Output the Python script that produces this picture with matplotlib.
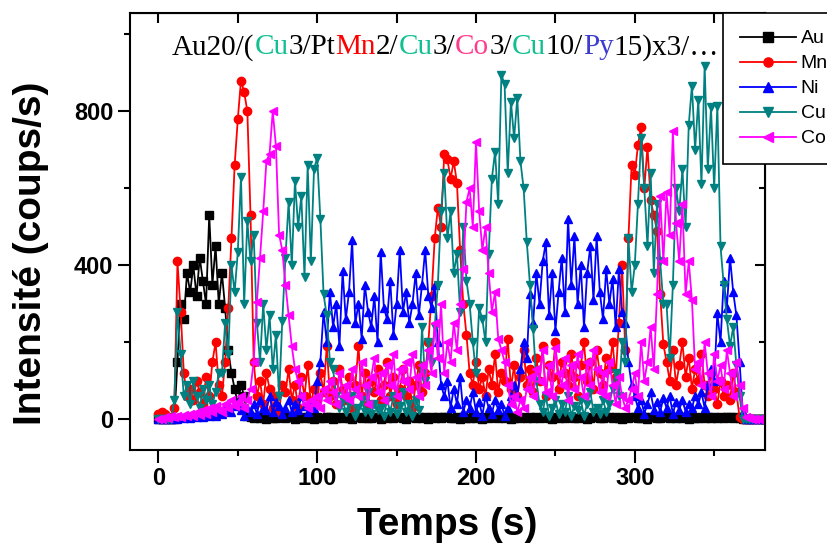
import numpy as np
import matplotlib
matplotlib.use('Agg')
import matplotlib.pyplot as plt
from matplotlib import transforms
from matplotlib.ticker import MultipleLocator

plt.rcParams['font.family'] = ['Liberation Sans', 'DejaVu Sans']

# time grid (s), one point every 2 s
t = np.arange(0, 386, 2)

au = [0, 0, 0, 0, 0, 0, 150, 300, 260, 380,
      330, 400, 320, 420, 360, 300, 530, 350, 450, 300,
      380, 290, 180, 120, 80, 40, 90, 60, 10, 5,
      4, 6, 3, 5, 2, 7, 4, 3, 6, 5,
      3, 5, 7, 2, 4, 6, 3, 5, 4, 2,
      6, 4, 3, 7, 5, 2, 4, 6, 3, 5,
      4, 2, 6, 5, 3, 7, 4, 3, 5, 6,
      2, 5, 4, 6, 3, 5, 7, 4, 2, 5,
      6, 3, 5, 4, 7, 2, 5, 3, 6, 4,
      5, 7, 3, 4, 6, 2, 5, 4, 3, 6,
      4, 5, 2, 6, 3, 5, 7, 4, 5, 3,
      6, 2, 4, 5, 3, 6, 4, 7, 3, 5,
      3, 5, 6, 4, 2, 5, 3, 6, 4, 7,
      5, 4, 3, 6, 5, 2, 4, 5, 6, 3,
      4, 6, 5, 3, 7, 4, 2, 5, 3, 6,
      5, 3, 4, 6, 2, 5, 7, 3, 4, 5,
      6, 4, 5, 3, 5, 4, 6, 2, 5, 3,
      4, 5, 3, 6, 4, 7, 3, 5, 4, 6,
      5, 3, 6, 4, 2, 0, 0, 0, 0, 0,
      0, 0, 0]

mn = [15, 20, 15, 5, 5, 30, 410, 280, 120, 60,
      80, 50, 100, 70, 40, 110, 60, 150, 200, 90,
      60, 150, 290, 470, 660, 780, 880, 850, 800, 530,
      150, 60, 100, 40, 120, 80, 30, 60, 20, 90,
      70, 130, 50, 90, 30, 110, 60, 140, 40, 80,
      50, 120, 70, 190, 60, 100, 40, 130, 80, 50,
      110, 30, 90, 190, 60, 120, 40, 100, 70, 130,
      50, 90, 150, 60, 110, 40, 80, 130, 60, 100,
      30, 90, 140, 70, 120, 200, 320, 470, 550, 500,
      690, 675, 625, 670, 615, 440, 300, 220, 120, 90,
      150, 80, 110, 60, 130, 90, 170, 70, 120, 100,
      210, 80, 140, 60, 110, 180, 90, 130, 70, 160,
      100, 190, 60, 140, 110, 200, 80, 150, 120, 90,
      170, 110, 60, 140, 200, 100, 150, 80, 180, 120,
      90, 160, 130, 200, 110, 250, 400, 180, 470, 660,
      635, 712, 760, 600, 707, 570, 530, 490, 325, 195,
      150, 100, 180, 90, 140, 200, 110, 160, 80, 130,
      100, 170, 90, 60, 120, 80, 40, 100, 60, 90,
      50, 120, 70, 5, 0, 0, 0, 0, 0, 0,
      0, 0, 0]

ni = [0, 2, 0, 3, 1, 4, 2, 5, 3, 6,
      4, 8, 5, 10, 6, 12, 8, 15, 10, 20,
      15, 25, 40, 20, 35, 45, 25, 10, 30, 20,
      40, 15, 50, 30, 25, 60, 20, 45, 35, 15,
      30, 50, 20, 40, 25, 60, 35, 20, 45, 30,
      100, 150, 280, 200, 330, 240, 300, 190, 385, 260,
      330, 465, 250, 300, 210, 350, 280, 240, 320, 200,
      435, 290, 260, 360, 220, 300, 440, 280, 330, 250,
      300, 380, 270, 350, 440, 320, 290, 350, 200, 90,
      60, 100, 30, 80, 40, 110, 20, 50, 30, 70,
      20, 45, 10, 60, 30, 15, 50, 25, 40, 10,
      30, 60, 90, 60, 130, 200, 160, 325, 250, 380,
      300, 410, 460, 270, 380, 230, 330, 420, 280, 520,
      350, 475, 300, 400, 240, 380, 450, 310, 475, 330,
      260, 390, 300, 365, 240, 390, 280, 250, 150, 90,
      60, 30, 50, 15, 40, 70, 25, 45, 20, 55,
      30, 60, 15, 45, 25, 50, 20, 40, 30, 60,
      40, 70, 30, 90, 130, 100, 275, 200, 360, 290,
      420, 330, 270, 150, 20, 0, 0, 0, 0, 0,
      0, 0, 0]

cu = [0, 0, 0, 0, 0, 50, 280, 170, 60, 90,
      40, 100, 60, 30, 80, 50, 90, 40, 70, 120,
      120, 250, 170, 400, 330, 435, 630, 300, 515, 410,
      480, 250, 150, 300, 180, 270, 130, 220, 60, 255,
      420, 565, 400, 620, 500, 580, 370, 660, 410, 650,
      680, 520, 325, 270, 150, 130, 60, 30, 50, 20,
      40, 60, 10, 30, 50, 20, 70, 15, 40, 25,
      30, 10, 50, 20, 60, 15, 35, 70, 20, 40,
      10, 50, 25, 240, 100, 200, 150, 240, 350, 540,
      640, 470, 540, 380, 430, 280, 500, 360, 300, 200,
      120, 290, 260, 200, 430, 625, 695, 560, 895, 870,
      640, 825, 730, 835, 670, 600, 460, 350, 235, 100,
      40, 20, 60, 10, 30, 50, 15, 40, 20, 60,
      10, 35, 25, 50, 10, 40, 70, 20, 30, 15,
      50, 20, 40, 80, 120, 60, 200, 150, 470, 330,
      400, 560, 730, 600, 450, 640, 380, 560, 410, 300,
      300, 160, 350, 600, 540, 650, 500, 765, 867, 700,
      830, 610, 918, 650, 810, 600, 815, 450, 350, 260,
      190, 240, 140, 60, 0, 0, 0, 0, 0, 0,
      0, 0, 0]

co = [0, 0, 5, 3, 8, 5, 10, 6, 12, 8,
      15, 10, 20, 12, 25, 15, 30, 20, 35, 25,
      20, 40, 30, 50, 35, 45, 60, 30, 50, 80,
      150, 305, 420, 540, 670, 690, 800, 710, 480, 440,
      350, 270, 190, 130, 100, 60, 40, 30, 50, 40,
      60, 30, 80, 50, 100, 70, 40, 120, 60, 90,
      50, 130, 80, 60, 150, 90, 40, 110, 160, 70,
      120, 50, 140, 90, 170, 60, 130, 100, 150, 80,
      170, 110, 60, 140, 90, 180, 120, 250, 160, 300,
      120, 200, 150, 250, 180, 300, 390, 565, 600, 500,
      720, 540, 440, 500, 380, 280, 330, 210, 180, 150,
      90, 40, 60, 20, 50, 30, 80, 110, 60, 130,
      100, 180, 70, 140, 60, 185, 120, 90, 160, 50,
      140, 80, 170, 110, 60, 150, 90, 180, 130, 70,
      120, 60, 150, 90, 40, 110, 60, 30, 50, 80,
      120, 60, 200, 100, 150, 240, 130, 325, 580, 410,
      590, 480, 750, 510, 410, 560, 325, 410, 310, 130,
      150, 90, 200, 120, 60, 170, 100, 140, 80, 180,
      120, 60, 150, 90, 30, 5, 3, 2, 2, 2,
      2, 2, 2]

series = [('Au', au, 'black', 's'),
          ('Mn', mn, 'red', 'o'),
          ('Ni', ni, 'blue', '^'),
          ('Cu', cu, '#008080', 'v'),
          ('Co', co, 'magenta', '<')]

fig = plt.figure(figsize=(8.27, 5.47), dpi=100)
ax = fig.add_axes([0.157, 0.177, 0.768, 0.799])

for name, vals, col, mk in series:
    ax.plot(t, vals, color=col, marker=mk, markersize=6, lw=1.3, label=name)

ax.set_xlim(-18, 382)
ax.set_ylim(-80, 1055)
ax.xaxis.set_major_locator(MultipleLocator(100))
ax.xaxis.set_minor_locator(MultipleLocator(50))
ax.yaxis.set_major_locator(MultipleLocator(400))
ax.yaxis.set_minor_locator(MultipleLocator(200))
for sp in ax.spines.values():
    sp.set_linewidth(1.5)
ax.tick_params(which='major', direction='out', length=9, width=1.5,
               labelsize=17, pad=3)
ax.tick_params(which='minor', direction='out', length=4.5, width=1.5)
for lab in ax.get_xticklabels() + ax.get_yticklabels():
    lab.set_fontweight('bold')

# inward ticks on top and right
top = ax.secondary_xaxis('top')
top.xaxis.set_major_locator(MultipleLocator(50))
top.tick_params(direction='in', length=7, width=1.5, labeltop=False)
right = ax.secondary_yaxis('right')
right.yaxis.set_major_locator(MultipleLocator(400))
right.yaxis.set_minor_locator(MultipleLocator(200))
right.tick_params(which='major', direction='in', length=7, width=1.5, labelright=False)
right.tick_params(which='minor', direction='in', length=4, width=1.5)

ax.set_xlabel('Temps (s)', fontsize=28, fontweight='bold', labelpad=12)
ax.set_ylabel('Intensité (coups/s)', fontsize=28, fontweight='bold')
ax.yaxis.set_label_coords(-0.127, 0.45)

# multicolour sample description
pieces = [('Au20/(', 'black'), ('Cu', '#10c090'), ('3/Pt', 'black'),
          ('Mn', 'red'), ('2/', 'black'), ('Cu', '#10c090'), ('3/', 'black'),
          ('Co', '#ff3c8c'), ('3/', 'black'), ('Cu', '#10c090'),
          ('10/', 'black'), ('Py', '#3c3cd0'), ('15)x3/…', 'black')]
fig.canvas.draw()
renderer = fig.canvas.get_renderer()
tr = ax.transAxes
for s, c in pieces:
    txt = ax.text(0.066, 0.906, s, color=c, transform=tr, fontsize=21,
                  family=['Liberation Serif', 'DejaVu Serif'], va='baseline')
    txt.draw(renderer)
    ex = txt.get_window_extent(renderer)
    tr = transforms.offset_copy(txt.get_transform(), x=ex.width, units='dots')

leg = fig.legend(loc='lower left', bbox_to_anchor=(723 / 827, 1 - 164 / 547),
                 borderaxespad=0, fontsize=14, handlelength=2.9,
                 handletextpad=0.25, labelspacing=0.38, borderpad=0.85,
                 fancybox=False, framealpha=1, markerscale=1.1)
leg.get_frame().set_edgecolor('black')
leg.get_frame().set_linewidth(1.2)

fig.savefig('out.png', dpi=100)
